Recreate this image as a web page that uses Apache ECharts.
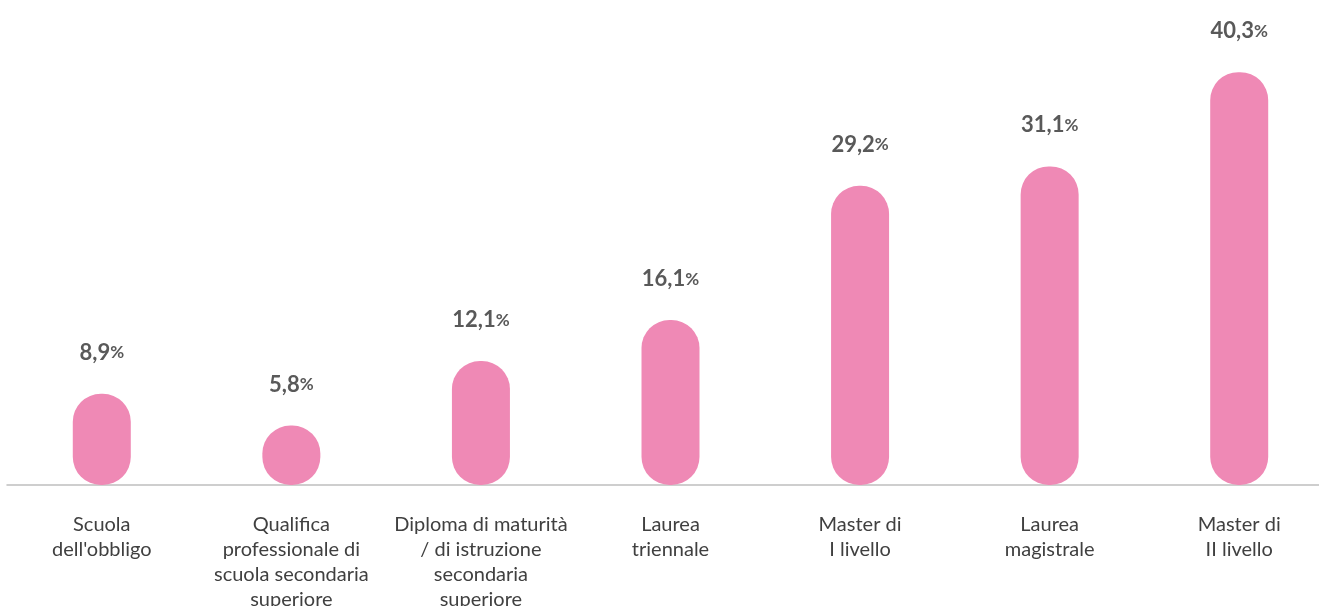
<!DOCTYPE html>
<html>
<head>
<meta charset="utf-8">
<script src="https://cdn.jsdelivr.net/npm/echarts@6/dist/echarts.min.js"></script>
<style>
html,body{margin:0;padding:0;background:#fff;}
#c{width:1319px;height:606px;}
</style>
</head>
<body>
<div id="c"></div>
<script>
const categories = [
  "Scuola\ndell'obbligo",
  "Qualifica\nprofessionale di\nscuola secondaria\nsuperiore",
  "Diploma di maturità\n/ di istruzione\nsecondaria\nsuperiore",
  "Laurea\ntriennale",
  "Master di\nI livello",
  "Laurea\nmagistrale",
  "Master di\nII livello"
];
const values = [8.9, 5.8, 12.1, 16.1, 29.2, 31.1, 40.3];

const chart = echarts.init(document.getElementById('c'));
chart.setOption({
  animation: false,
  backgroundColor: '#ffffff',
  grid: { left: 7, width: 1327, top: 24, height: 461, containLabel: false, outerBoundsMode: 'none' },
  xAxis: {
    type: 'category',
    data: categories,
    axisLine: { show: true, lineStyle: { color: '#bfbfbf', width: 1.5 } },
    axisTick: { show: false },
    axisLabel: {
      interval: 0,
      margin: 27,
      fontFamily: 'Lato, "Noto Sans", sans-serif',
      fontSize: 20,
      lineHeight: 25,
      color: '#404040'
    }
  },
  yAxis: {
    type: 'value',
    min: 0, max: 45,
    show: false,
    splitLine: { show: false }
  },
  series: [{
    type: 'bar',
    data: values,
    barWidth: 58,
    itemStyle: { color: '#EF89B5', borderRadius: 28 },
    label: {
      show: true,
      position: 'top',
      distance: 30,
      formatter: p => '{n|' + p.value.toFixed(1).replace('.', ',') + '}{p|%}',
      rich: {
        n: { fontFamily: 'Lato, "Noto Sans", sans-serif', fontSize: 22, fontWeight: 'bold', color: '#595959' },
        p: { fontFamily: 'Lato, "Noto Sans", sans-serif', fontSize: 17, fontWeight: 'bold', color: '#595959' }
      }
    }
  }]
});
</script>
</body>
</html>
